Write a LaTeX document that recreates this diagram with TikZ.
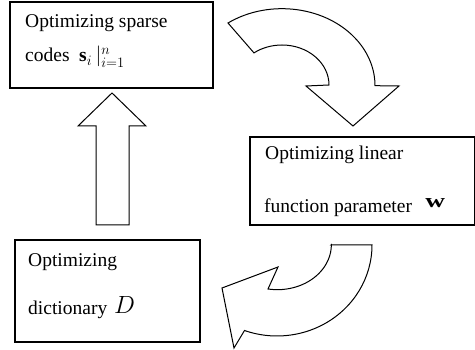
\documentclass[tikz,border=0pt]{standalone}
\usepackage{fontspec}
\setmainfont{Liberation Serif}
\usepackage{amsmath}
\usepackage{tikz}

\begin{document}
\begin{tikzpicture}[x=1pt,y=-1pt,
  box/.style={draw,line width=2.2pt,inner sep=0pt,anchor=north west},
  lbl/.style={inner sep=0pt,anchor=base west,font=\fontsize{19.5}{22}\selectfont},
  blockarrow/.style={draw,line width=1pt,line join=miter,fill=white}]
\useasboundingbox (0,0) rectangle (475,350);
% the three steps
  \node[box,minimum width=203pt,minimum height=86pt] (codes) at (9,1) {};
  \node[box,minimum width=225pt,minimum height=88pt] (param) at (249,136) {};
  \node[box,minimum width=185pt,minimum height=102pt] (dict) at (14,239) {};

  \node[lbl] (codesA) at (25,28) {Optimizing sparse};
  \node[lbl] (codesB) at (25,62) {codes};
  \node[lbl] (codesS) at (79,62) {$\mathbf{s}_i\,|_{i=1}^{n}$};
  \node[lbl] (paramA) at (265,160) {Optimizing linear};
  \node[lbl] (paramB) at (264,213) {function parameter};
  \node[lbl,xscale=1.4] (paramW) at (425,208) {$\mathbf{w}$};
  \node[lbl] (dictA) at (28,267) {Optimizing};
  \node[lbl] (dictB) at (28,315) {dictionary};
  \node[lbl,font=\fontsize{23}{25}\selectfont] (dictD) at (114,314) {$D$};

% block arrows
  \draw[blockarrow] (96,225) -- (96,126) -- (78,126) -- (112,93)
    -- (146,126) -- (129,126) -- (129,225) -- cycle;
  \draw[blockarrow] (228,23) arc[start angle=234.5,end angle=360,x radius=93,y radius=77]
    -- (399,86) -- (353,126) -- (306,86) -- (329,85)
    arc[start angle=360,end angle=233.4,x radius=47,y radius=40] -- cycle;
  \draw[blockarrow] (331,245) -- (372,245)
    arc[start angle=0,end angle=110,x radius=95,y radius=91]
    -- (234,348) -- (222,288) -- (278,267) -- (268,289)
    arc[start angle=100,end angle=0,x radius=54,y radius=45] -- cycle;
\end{tikzpicture}
\end{document}
